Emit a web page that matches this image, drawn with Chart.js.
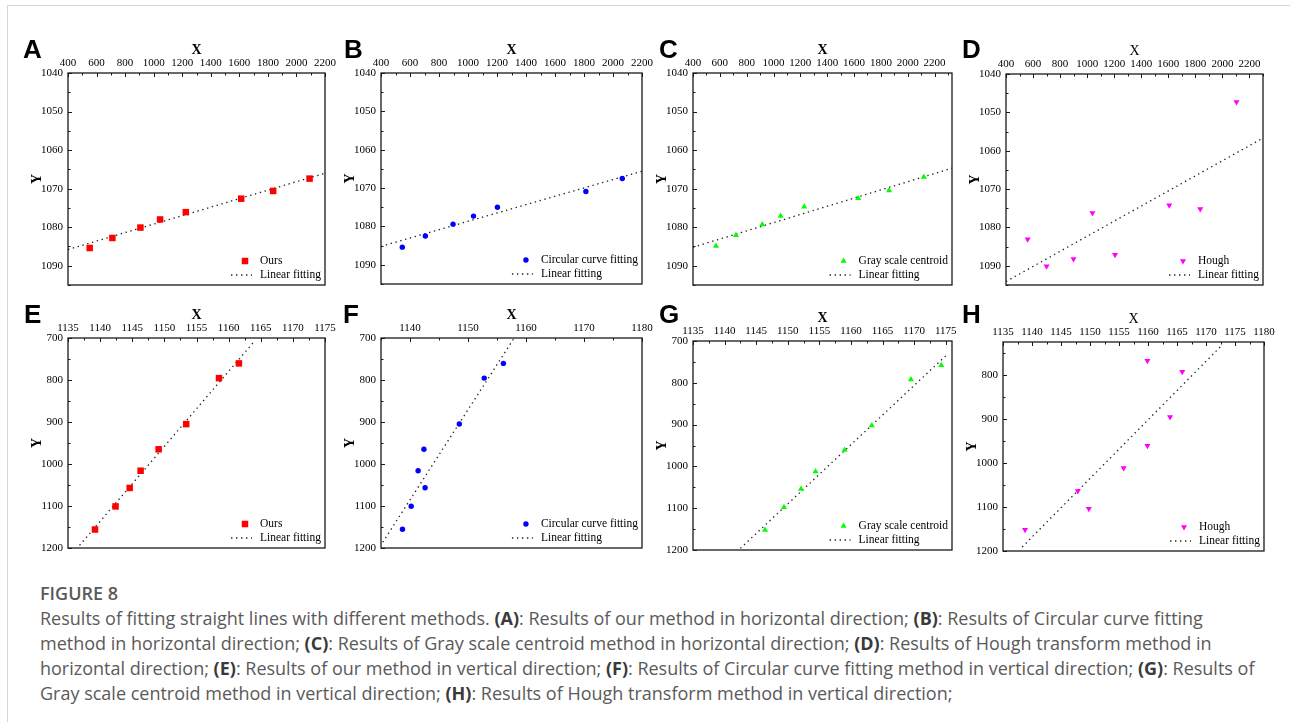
<!DOCTYPE html>
<html>
<head>
<meta charset="utf-8">
<script src="https://cdn.jsdelivr.net/npm/chart.js@4/dist/chart.umd.min.js"></script>
<style>
  html, body { margin:0; padding:0; background:#fff; }
  body { width:1290px; height:722px; position:relative; overflow:hidden; }
  .frame { position:absolute; left:7px; top:5px; width:1300px; height:760px; border-left:1px solid #d6d6d6; border-top:1px solid #d6d6d6; }
  canvas.panel { position:absolute; }
  .letter { position:absolute; font-family:"Liberation Sans", Arial, sans-serif; font-weight:bold; font-size:26px; line-height:26px; color:#000; }
  .caption { position:absolute; left:40px; top:581px; font-family:"Open Sans", sans-serif; font-size:18px; line-height:25px; color:#5a5a5a; white-space:nowrap; }
  .caption b { color:#3a3a3a; font-weight:700; }
  .caption .fig { font-weight:600; }
</style>
</head>
<body>
<div class="frame"></div>
<div id="holder"></div>
<div class="caption">
  <div class="fig">FIGURE 8</div>
  <div>Results of fitting straight lines with different methods. <b>(A)</b>: Results of our method in horizontal direction; <b>(B)</b>: Results of Circular curve fitting</div>
  <div>method in horizontal direction; <b>(C)</b>: Results of Gray scale centroid method in horizontal direction; <b>(D)</b>: Results of Hough transform method in</div>
  <div>horizontal direction; <b>(E)</b>: Results of our method in vertical direction; <b>(F)</b>: Results of Circular curve fitting method in vertical direction; <b>(G)</b>: Results of</div>
  <div>Gray scale centroid method in vertical direction; <b>(H)</b>: Results of Hough transform method in vertical direction;</div>
</div>
<script>
// ---------------- DATA ----------------
// Horizontal direction (panels A-D)
const xOursH   = [552, 711, 907, 1045, 1225, 1613, 1837, 2092];
const yOursH   = [1085.4, 1082.8, 1080.1, 1078.0, 1076.1, 1072.6, 1070.6, 1067.4];
const fitXOursH = [400, 2200];
const fitYOursH = [1085.8, 1066.0];

const xCircH   = [547, 706, 897, 1038, 1203, 1813, 2064];
const yCircH   = [1085.4, 1082.5, 1079.4, 1077.3, 1075.0, 1070.9, 1067.5];
const fitXCircH = [400, 2200];
const fitYCircH = [1085.2, 1065.6];

const xGrayH   = [571, 720, 916, 1053, 1229, 1631, 1861, 2120];
const yGrayH   = [1084.9, 1082.1, 1079.3, 1077.1, 1074.7, 1072.5, 1070.5, 1067.0];
const fitXGrayH = [400, 2330];
const fitYGrayH = [1085.2, 1064.7];

const xHoughH  = [560, 700, 899, 1039, 1206, 1607, 1836, 2104];
const yHoughH  = [1083.1, 1090.1, 1088.2, 1076.2, 1087.1, 1074.2, 1075.2, 1047.3];
const fitXHoughH = [400, 2300];
const fitYHoughH = [1094.1, 1056.7];

// Vertical direction (panels E-H)
const xOursV   = [1139.2, 1142.4, 1144.6, 1146.3, 1149.1, 1153.4, 1158.5, 1161.6];
const yOursV   = [1156, 1101, 1057, 1016, 965, 905, 795.5, 760.5];
const fitXOursV = [1136.8, 1164.0];
const fitYOursV = [1193.6, 708];

const xCircV   = [1138.7, 1140.2, 1141.4, 1142.6, 1142.4, 1148.5, 1152.8, 1156.1];
const yCircV   = [1155.4, 1100.5, 1016, 1056.7, 965, 904.6, 795.5, 760.5];
const fitXCircV = [1135.3, 1157.9];
const fitYCircV = [1186.3, 701.3];

const xGrayV   = [1146.4, 1149.4, 1152.1, 1154.4, 1159.0, 1163.3, 1169.5, 1174.3];
const yGrayV   = [1152.2, 1098, 1054.3, 1012, 961, 902, 792.4, 758];
const fitXGrayV = [1142.5, 1175.4];
const fitYGrayV = [1196, 730];

const xHoughV  = [1138.8, 1147.9, 1149.8, 1155.8, 1159.9, 1159.9, 1163.8, 1165.9];
const yHoughV  = [1151.7, 1063.4, 1104.2, 1011.3, 960.8, 767.5, 895.5, 792.5];
const fitXHoughV = [1138.3, 1172.6];
const fitYHoughV = [1190.9, 734.3];

// Axis ranges and tick steps
const xRangeH = [400, 2200], xRangeC = [400, 2330], xRangeD = [400, 2300], xStepH = 200;
const yRangeH = [1040, 1095], yStepH = 10;
const xRangeE = [1135, 1175], xRangeF = [1135, 1180], xRangeG = [1135, 1176], xRangeHV = [1135, 1180];
const xStepE = 5, xStepF = 10;
const yRangeV = [700, 1200], yRangeHV = [725, 1200], yStepV = 100;

const seriesNames = ['Ours', 'Circular curve fitting', 'Gray scale centroid', 'Hough'];
const fitName = 'Linear fitting';

// ---------------- RENDERING ----------------
const SERIF = '"Liberation Serif", "Times New Roman", serif';

const framePlugin = {
  id: 'frameTicks',
  afterDraw(chart, args, opts) {
    const { ctx, chartArea: a, scales: { x, y } } = chart;
    ctx.save();
    ctx.strokeStyle = '#1a1a1a';
    ctx.lineWidth = 1.3;
    ctx.strokeRect(a.left, a.top, a.right - a.left, a.bottom - a.top);
    ctx.lineWidth = 1;
    const hx = opts.xStep / 2;
    for (let k = Math.ceil(x.min / hx - 1e-9); k * hx <= x.max + 1e-9; k++) {
      const px = Math.round(x.getPixelForValue(k * hx)) + 0.5;
      const major = k % 2 === 0;
      ctx.beginPath(); ctx.moveTo(px, a.top); ctx.lineTo(px, a.top + (major ? 4 : 2.5)); ctx.stroke();
    }
    const hy = opts.yStep / 2;
    for (let k = Math.ceil(y.min / hy - 1e-9); k * hy <= y.max + 1e-9; k++) {
      const py = Math.round(y.getPixelForValue(k * hy)) + 0.5;
      const major = k % 2 === 0;
      ctx.beginPath(); ctx.moveTo(a.left, py); ctx.lineTo(a.left + (major ? 4 : 2.5), py); ctx.stroke();
    }
    ctx.restore();
  }
};

const legendPlugin = {
  id: 'insideLegend',
  afterDatasetsDraw(chart) {
    const { ctx, chartArea: a } = chart;
    const ds = chart.data.datasets;
    ctx.save();
    ctx.font = '11.5px ' + SERIF;
    const w = Math.max(...ds.map(d => ctx.measureText(d.label).width));
    const tx = a.right - 4 - w;
    ds.forEach((d, i) => {
      const yy = a.bottom - 24 + i * 14;
      if (d.showLine) {
        ctx.strokeStyle = d.borderColor; ctx.lineWidth = d.borderWidth;
        ctx.setLineDash(d.borderDash);
        ctx.beginPath(); ctx.moveTo(tx - 29, yy); ctx.lineTo(tx - 8, yy); ctx.stroke();
        ctx.setLineDash([]);
      } else {
        ctx.fillStyle = d.pointBackgroundColor;
        ctx.strokeStyle = d.pointBackgroundColor;
        Chart.helpers.drawPoint(ctx, { pointStyle: d.pointStyle, rotation: d.pointRotation || 0, radius: d.pointRadius, borderWidth: 0 }, tx - 15, yy);
      }
      ctx.fillStyle = '#000';
      ctx.textBaseline = 'middle';
      ctx.textAlign = 'left';
      ctx.fillText(d.label, tx, yy);
    });
    ctx.restore();
  }
};

const panels = [
  { L:'A', box:[68,73,325,285],   xs:xOursH,  ys:yOursH,  fx:fitXOursH,  fy:fitYOursH,  name:seriesNames[0], color:'#ff0000', style:'rect',     r:4.6, rot:0,   xr:xRangeH,  xStep:xStepH, yr:yRangeH,  yStep:yStepH, xBold:true,  letter:[23,36] },
  { L:'B', box:[381,73,642,284],  xs:xCircH,  ys:yCircH,  fx:fitXCircH,  fy:fitYCircH,  name:seriesNames[1], color:'#0000ff', style:'circle',   r:2.7, rot:0,   xr:xRangeH,  xStep:xStepH, yr:yRangeH,  yStep:yStepH, xBold:true,  letter:[344,36] },
  { L:'C', box:[693,73,952,285],  xs:xGrayH,  ys:yGrayH,  fx:fitXGrayH,  fy:fitYGrayH,  name:seriesNames[2], color:'#00ff00', style:'triangle', r:3.5, rot:0,   xr:xRangeC,  xStep:xStepH, yr:yRangeH,  yStep:yStepH, xBold:true,  letter:[659,36] },
  { L:'D', box:[1006,74,1263,285],xs:xHoughH, ys:yHoughH, fx:fitXHoughH, fy:fitYHoughH, name:seriesNames[3], color:'#ff00ff', style:'triangle', r:3.5, rot:180, xr:xRangeD,  xStep:xStepH, yr:yRangeH,  yStep:yStepH, xBold:false, letter:[962,36] },
  { L:'E', box:[68,338,325,548],  xs:xOursV,  ys:yOursV,  fx:fitXOursV,  fy:fitYOursV,  name:seriesNames[0], color:'#ff0000', style:'rect',     r:4.6, rot:0,   xr:xRangeE,  xStep:xStepE, yr:yRangeV,  yStep:yStepV, xBold:true,  letter:[24,301] },
  { L:'F', box:[381,338,642,548], xs:xCircV,  ys:yCircV,  fx:fitXCircV,  fy:fitYCircV,  name:seriesNames[1], color:'#0000ff', style:'circle',   r:2.7, rot:0,   xr:xRangeF,  xStep:xStepF, yr:yRangeV,  yStep:yStepV, xBold:true,  letter:[343,301] },
  { L:'G', box:[693,341,952,550], xs:xGrayV,  ys:yGrayV,  fx:fitXGrayV,  fy:fitYGrayV,  name:seriesNames[2], color:'#00ff00', style:'triangle', r:3.5, rot:0,   xr:xRangeG,  xStep:xStepE, yr:yRangeV,  yStep:yStepV, xBold:true,  letter:[659,301] },
  { L:'H', box:[1003,342,1264,551],xs:xHoughV,ys:yHoughV, fx:fitXHoughV, fy:fitYHoughV, name:seriesNames[3], color:'#ff00ff', style:'triangle', r:3.5, rot:180, xr:xRangeHV, xStep:xStepE, yr:yRangeHV, yStep:yStepV, xBold:false, letter:[962,301] }
];

const holder = document.getElementById('holder');
const LEFTW = 60, TOPH = 40, PADR = 24, PADB = 8;
const plainTick = v => String(v);

panels.forEach(p => {
  const [l, t, r, b] = p.box;
  const cw = (r - l) + LEFTW + PADR, ch = (b - t) + TOPH + PADB;
  const cv = document.createElement('canvas');
  cv.className = 'panel';
  cv.width = cw; cv.height = ch;
  cv.style.left = (l - LEFTW) + 'px'; cv.style.top = (t - TOPH) + 'px';
  cv.style.width = cw + 'px'; cv.style.height = ch + 'px';
  holder.appendChild(cv);

  const letter = document.createElement('div');
  letter.className = 'letter';
  letter.textContent = p.L;
  letter.style.left = p.letter[0] + 'px'; letter.style.top = p.letter[1] + 'px';
  document.body.appendChild(letter);

  const pts = p.xs.map((x, i) => ({ x, y: p.ys[i] }));
  const fit = p.fx.map((x, i) => ({ x, y: p.fy[i] }));

  new Chart(cv, {
    type: 'scatter',
    data: {
      datasets: [
        { label: p.name, data: pts, pointStyle: p.style, pointRotation: p.rot, pointRadius: p.r, pointHoverRadius: p.r,
          pointBackgroundColor: p.color, pointBorderColor: p.color, pointBorderWidth: 0, showLine: false },
        { label: fitName, data: fit, showLine: true, pointRadius: 0, pointHoverRadius: 0, borderColor: '#222',
          borderWidth: 1.3, borderDash: [1.4, 3.6], fill: false }
      ]
    },
    options: {
      responsive: false,
      animation: false,
      devicePixelRatio: 1,
      layout: { padding: { left: 0, top: 0, right: PADR, bottom: PADB } },
      plugins: {
        legend: { display: false },
        tooltip: { enabled: false },
        frameTicks: { xStep: p.xStep, yStep: p.yStep }
      },
      scales: {
        x: {
          type: 'linear', position: 'top', min: p.xr[0], max: p.xr[1],
          grid: { display: false, drawTicks: false }, border: { display: false },
          ticks: { stepSize: p.xStep, includeBounds: false, autoSkip: false, maxRotation: 0, minRotation: 0, padding: 3,
                   color: '#000', font: { family: SERIF, size: 11 }, callback: plainTick },
          title: { display: true, text: 'X', color: '#000', padding: { top: 8.5, bottom: 0 },
                   font: { family: SERIF, size: 14, weight: p.xBold ? 'bold' : 'normal' } },
          afterFit(s) { s.height = TOPH; s.paddingLeft = 0; s.paddingRight = 0; }
        },
        y: {
          type: 'linear', position: 'left', reverse: true, min: p.yr[0], max: p.yr[1],
          grid: { display: false, drawTicks: false }, border: { display: false },
          ticks: { stepSize: p.yStep, includeBounds: false, autoSkip: false, padding: 5,
                   color: '#000', font: { family: SERIF, size: 11 }, callback: plainTick },
          title: { display: true, text: 'Y', color: '#000', padding: { top: 20.5, bottom: 0 },
                   font: { family: SERIF, size: 14, weight: 'bold' } },
          afterFit(s) { s.width = LEFTW; s.paddingTop = 0; s.paddingBottom = 0; }
        }
      }
    },
    plugins: [framePlugin, legendPlugin]
  });
});
</script>
</body>
</html>
